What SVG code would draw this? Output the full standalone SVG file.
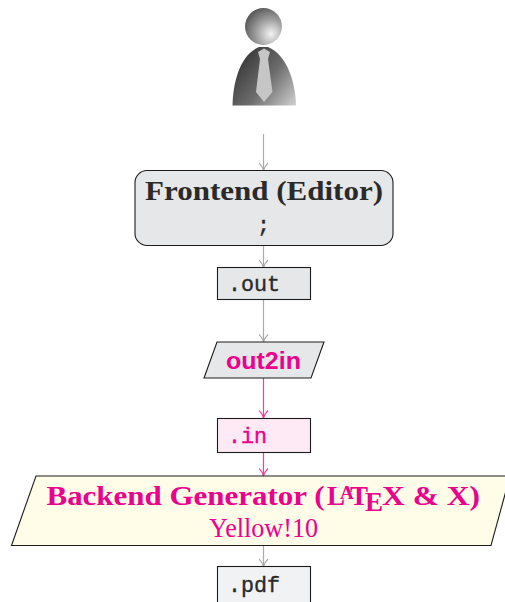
<svg xmlns="http://www.w3.org/2000/svg" width="505" height="602" viewBox="0 0 505 602">
<defs>
<radialGradient id="head" gradientUnits="userSpaceOnUse" cx="271" cy="34" r="29"><stop offset="0" stop-color="#f4f4f4"/><stop offset="0.5" stop-color="#a0a0a0"/><stop offset="1" stop-color="#555"/></radialGradient>
<linearGradient id="body" gradientUnits="userSpaceOnUse" x1="238" y1="60" x2="296" y2="106"><stop offset="0" stop-color="#383838"/><stop offset="0.5" stop-color="#6e6e6e"/><stop offset="1" stop-color="#d2d2d2"/></linearGradient>
<marker id="ag" viewBox="0 0 10 10" refX="9" refY="5" markerWidth="10" markerHeight="10" orient="auto" markerUnits="userSpaceOnUse"><path d="M1.500 0.500 Q5 4 9 5 Q5 6 1.500 9.500" fill="none" stroke="#aaa" stroke-width="1.100"/></marker>
<marker id="am" viewBox="0 0 10 10" refX="9" refY="5" markerWidth="10" markerHeight="10" orient="auto" markerUnits="userSpaceOnUse"><path d="M1.500 0.500 Q5 4 9 5 Q5 6 1.500 9.500" fill="none" stroke="#ec3f9e" stroke-width="1.100"/></marker>
</defs>
<style>
.box{stroke:#1c1c1c;stroke-width:1.100}
.g{fill:none;stroke:#aaa;stroke-width:1.200;marker-end:url(#ag)}
.m{fill:none;stroke:#ec3f9e;stroke-width:1.200;marker-end:url(#am)}
.serif{font-family:"Liberation Serif","DejaVu Serif",serif}
.b{font-weight:700}
.mono{font-family:"Liberation Mono","DejaVu Sans Mono",monospace;font-size:21.7px;stroke-width:0.350px}
.mag{fill:#ec008c}
.dark{fill:#2a2a2a}
.mono.mag{stroke:#ec008c}
.mono.dark{stroke:#2a2a2a}
</style>
<g id="connectors">
<path class="g" d="M263.500 134V170.500"/>
<path class="g" d="M263.500 246V267.500"/>
<path class="g" d="M263.500 300V342"/>
<path class="m" d="M263.500 378V418"/>
<path class="m" d="M263.500 453V476"/>
<path class="g" d="M263.500 546V566.500"/>
</g>
<g id="person">
<circle cx="263.500" cy="26.500" r="18.500" fill="url(#head)"/>
<path d="M232.500 105.500C233 82 240 55 259 47L268 47C287 55 295.500 82 296 105.500Z" fill="url(#body)"/>
<path d="M264 48.500L270 52L268 59L272.500 92L264 102L256 92L260 59L258 52Z" fill="#c6c6c6"/>
</g>
<g id="frontend">
<rect class="box" x="135" y="170.500" width="258" height="75" rx="12" fill="#e6e7e8"/>
<text class="serif b dark" x="145" y="200" font-size="26.500" textLength="238" lengthAdjust="spacingAndGlyphs">Frontend (Editor)</text>
<text class="mono dark" x="263.500" y="232" text-anchor="middle">;</text>
</g>
<g id="out">
<rect class="box" x="217.500" y="267.500" width="93" height="32" fill="#e6e7e8"/>
<text class="mono dark" x="228" y="291">.out</text>
</g>
<g id="out2in">
<path class="box" d="M217 342H324L311 378H204Z" fill="#e6e7e8"/>
<text x="226" y="368.500" font-family="Liberation Sans,Arial,sans-serif" font-weight="700" font-size="24.500" class="mag" textLength="75" lengthAdjust="spacingAndGlyphs">out2in</text>
</g>
<g id="in">
<rect class="box" x="217.500" y="418.500" width="93" height="34" fill="#fdeaf4"/>
<text class="mono mag" x="228" y="443">.in</text>
</g>
<g id="backend">
<path class="box" d="M36 476H510L491 545.500H11.500Z" fill="#fffce8"/>
<text class="serif b mag" font-size="27">
<tspan x="46.500" y="505" textLength="278" lengthAdjust="spacingAndGlyphs">Backend Generator (</tspan><tspan x="327" y="505">L</tspan><tspan x="340" y="499" font-size="19">A</tspan><tspan x="350" y="505">T</tspan><tspan x="365" y="511">E</tspan><tspan x="382" y="505" textLength="98" lengthAdjust="spacingAndGlyphs">X &amp; X)</tspan>
</text>
<text class="serif mag" x="209" y="537" font-size="27" textLength="109" lengthAdjust="spacingAndGlyphs">Yellow!10</text>
</g>
<g id="pdf">
<rect class="box" x="217.500" y="566.500" width="93" height="40" fill="#f1f2f4"/>
<text class="mono dark" x="228" y="591.500">.pdf</text>
</g>
</svg>
